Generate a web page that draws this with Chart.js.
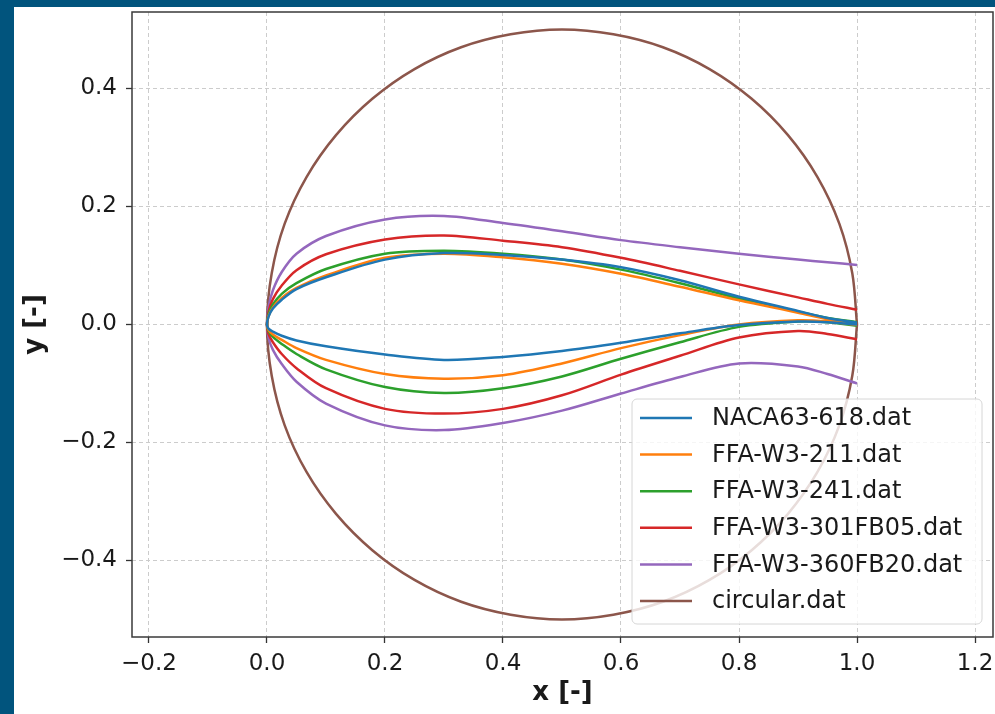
<!DOCTYPE html>
<html>
  <head>
    <title>Airfoil profiles</title>
    <script src="https://cdn.jsdelivr.net/npm/chart.js"></script>
    <style>
      body {
        margin: 0;
        background-color: #01547d;
        width: 995px;
        height: 714px;
        overflow: hidden;
      }
      .paper {
        position: absolute;
        left: 14px;
        top: 7px;
        width: 981px;
        height: 707px;
        background-color: white;
      }
      #foilChart {
        position: absolute;
        left: 0;
        top: 0;
      }
    </style>
  </head>
  <body>
    <div class="paper"></div>
    <canvas id="foilChart" width="995" height="714"></canvas>

    <script>
      // chordwise stations, trailing edge -> leading edge
      let xNodes = [1.0, 0.95, 0.9, 0.8, 0.7, 0.6, 0.5, 0.4, 0.3, 0.2, 0.1, 0.05, 0.025, 0.01, 0.0025, 0];

      // upper / lower surface y at each station
      let naca618Up = [0.003, 0.011, 0.023, 0.047, 0.075, 0.097, 0.110, 0.118, 0.121, 0.110, 0.080, 0.060, 0.042, 0.027, 0.013, 0];
      let naca618Lo = [0.000, 0.004, 0.005, -0.001, -0.015, -0.031, -0.045, -0.055, -0.060, -0.051, -0.037, -0.027, -0.019, -0.012, -0.007, 0];
      let ffa211Up = [0.001, 0.009, 0.020, 0.041, 0.064, 0.086, 0.103, 0.114, 0.120, 0.113, 0.083, 0.062, 0.045, 0.029, 0.014, 0];
      let ffa211Lo = [-0.001, 0.005, 0.007, 0.000, -0.018, -0.040, -0.066, -0.086, -0.092, -0.084, -0.060, -0.040, -0.026, -0.017, -0.009, 0];
      let ffa241Up = [0.004, 0.011, 0.022, 0.044, 0.070, 0.093, 0.110, 0.120, 0.125, 0.120, 0.094, 0.070, 0.052, 0.034, 0.017, 0];
      let ffa241Lo = [-0.002, 0.004, 0.005, -0.004, -0.030, -0.058, -0.088, -0.108, -0.116, -0.106, -0.076, -0.050, -0.033, -0.021, -0.011, 0];
      let ffa301Up = [0.025, 0.035, 0.046, 0.068, 0.091, 0.113, 0.131, 0.142, 0.151, 0.144, 0.119, 0.092, 0.066, 0.043, 0.021, 0];
      let ffa301Lo = [-0.025, -0.016, -0.011, -0.022, -0.053, -0.085, -0.120, -0.143, -0.151, -0.143, -0.108, -0.074, -0.050, -0.030, -0.016, 0];
      let ffa360Up = [0.101, 0.1055, 0.110, 0.120, 0.131, 0.143, 0.158, 0.172, 0.184, 0.178, 0.150, 0.120, 0.089, 0.058, 0.029, 0];
      let ffa360Lo = [-0.100, -0.084, -0.071, -0.066, -0.089, -0.117, -0.146, -0.167, -0.179, -0.171, -0.134, -0.097, -0.067, -0.043, -0.022, 0];

      // circular section, every 10 degrees
      let circleX = [1.0, 0.992, 0.970, 0.933, 0.883, 0.821, 0.75, 0.671, 0.587, 0.5, 0.413, 0.329, 0.25, 0.179, 0.117, 0.067, 0.030, 0.008, 0.0,
                     0.008, 0.030, 0.067, 0.117, 0.179, 0.25, 0.329, 0.413, 0.5, 0.587, 0.671, 0.75, 0.821, 0.883, 0.933, 0.970, 0.992, 1.0];
      let circleY = [0.0, 0.087, 0.171, 0.25, 0.321, 0.383, 0.433, 0.470, 0.492, 0.5, 0.492, 0.470, 0.433, 0.383, 0.321, 0.25, 0.171, 0.087, 0.0,
                     -0.087, -0.171, -0.25, -0.321, -0.383, -0.433, -0.470, -0.492, -0.5, -0.492, -0.470, -0.433, -0.383, -0.321, -0.25, -0.171, -0.087, 0.0];

      let names = ["NACA63-618.dat", "FFA-W3-211.dat", "FFA-W3-241.dat", "FFA-W3-301FB05.dat", "FFA-W3-360FB20.dat", "circular.dat"];
      let colors = ["#1f77b4", "#ff7f0e", "#2ca02c", "#d62728", "#9467bd", "#8c564b"];
      let xTicks = [-0.2, 0.0, 0.2, 0.4, 0.6, 0.8, 1.0, 1.2];
      let yTicks = [-0.4, -0.2, 0.0, 0.2, 0.4];

      function foil(up, lo) {
        let pts = xNodes.map((x, i) => ({ x: x, y: up[i] }));
        for (let i = xNodes.length - 2; i >= 0; i--) pts.push({ x: xNodes[i], y: lo[i] });
        return pts;
      }

      let shapes = [
        foil(naca618Up, naca618Lo),
        foil(ffa211Up, ffa211Lo),
        foil(ffa241Up, ffa241Lo),
        foil(ffa301Up, ffa301Lo),
        foil(ffa360Up, ffa360Lo),
        circleX.map((x, i) => ({ x: x, y: circleY[i] })),
      ];

      let fmt = (v) => (v < -1e-9 ? "\u2212" : "") + Math.abs(v).toFixed(1);

      // legend box inside the axes, lower right, like matplotlib's
      let boxLegend = {
        id: "boxLegend",
        afterDraw(chart) {
          let ctx = chart.ctx;
          let a = chart.chartArea;
          let w = 350, h = 225;
          let left = a.right - 11 - w, top = a.bottom - 13 - h;
          ctx.save();
          ctx.beginPath();
          ctx.roundRect(left, top, w, h, 5);
          ctx.fillStyle = "rgba(255,255,255,0.8)";
          ctx.fill();
          ctx.strokeStyle = "#d6d6d6";
          ctx.lineWidth = 1;
          ctx.stroke();
          ctx.font = "24px 'DejaVu Sans'";
          ctx.textBaseline = "middle";
          chart.data.datasets.forEach((ds, i) => {
            let y = top + 19 + i * 36.6;
            ctx.strokeStyle = ds.borderColor;
            ctx.lineWidth = 2.5;
            ctx.beginPath();
            ctx.moveTo(left + 8, y);
            ctx.lineTo(left + 60, y);
            ctx.stroke();
            ctx.fillStyle = "#1a1a1a";
            ctx.fillText(ds.label, left + 80, y + 1);
          });
          ctx.restore();
        },
      };

      // full frame around the axes
      let frame = {
        id: "frame",
        afterDatasetsDraw(chart) {
          let a = chart.chartArea;
          let ctx = chart.ctx;
          ctx.save();
          ctx.strokeStyle = "#3a3a3a";
          ctx.lineWidth = 1.5;
          ctx.strokeRect(a.left, a.top, a.right - a.left, a.bottom - a.top);
          ctx.restore();
        },
      };

      Chart.defaults.font.family = "'DejaVu Sans'";
      Chart.defaults.color = "#1a1a1a";

      let gridOpts = {
        color: "#cccccc",
        lineWidth: 1,
        tickLength: 6,
        tickColor: "#333333",
        tickWidth: 1.3,
        tickBorderDash: [],
      };

      let ctx = document.getElementById("foilChart").getContext("2d");
      let chart = new Chart(ctx, {
        type: "line",
        data: {
          datasets: shapes.map((pts, i) => ({
            label: names[i],
            data: pts,
            borderColor: colors[i],
            backgroundColor: colors[i],
            borderWidth: 2.5,
            pointRadius: 0,
            fill: false,
            tension: 0.33,
          })),
        },
        options: {
          responsive: false,
          animation: false,
          parsing: false,
          normalized: false,
          layout: { padding: { left: 14, top: 12, right: 2, bottom: 0 } },
          plugins: { legend: { display: false }, tooltip: { enabled: false } },
          elements: { line: { capBezierPoints: false } },
          scales: {
            x: {
              type: "linear",
              min: -0.2288,
              max: 1.2305,
              afterBuildTicks: (s) => {
                s.ticks = xTicks.map((v) => ({ value: v }));
              },
              afterFit: (s) => {
                s.height = 77;
                s.paddingLeft = 0;
                s.paddingRight = 0;
              },
              grid: gridOpts,
              border: { display: false, dash: [4, 3] },
              ticks: { font: { size: 23 }, padding: 7, maxRotation: 0, callback: fmt },
              title: {
                display: true,
                text: "x [-]",
                font: { size: 26, weight: "bold" },
                padding: { top: 0, bottom: 5 },
              },
            },
            y: {
              type: "linear",
              min: -0.5297,
              max: 0.5297,
              afterBuildTicks: (s) => {
                s.ticks = yTicks.map((v) => ({ value: v }));
              },
              afterFit: (s) => {
                s.width = 118;
                s.paddingTop = 0;
                s.paddingBottom = 0;
              },
              grid: gridOpts,
              border: { display: false, dash: [4, 3] },
              ticks: { font: { size: 23 }, padding: 9, callback: fmt },
              title: {
                display: true,
                text: "y [-]",
                font: { size: 26, weight: "bold" },
                padding: { top: 6, bottom: 0 },
              },
            },
          },
        },
        plugins: [frame, boxLegend],
      });
    </script>
  </body>
</html>
